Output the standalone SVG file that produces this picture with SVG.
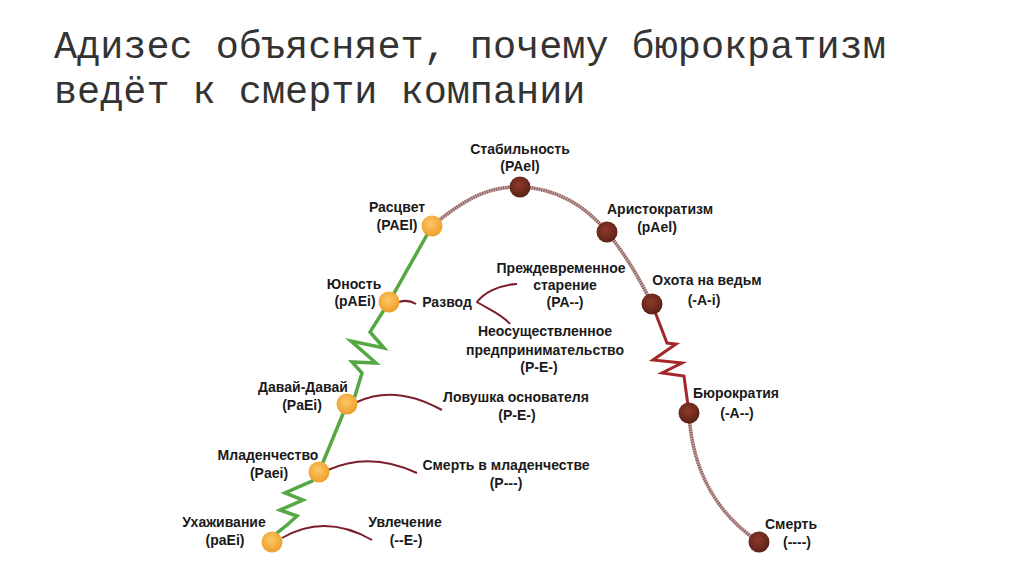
<svg xmlns="http://www.w3.org/2000/svg" width="1024" height="574" viewBox="0 0 1024 574">
<defs>
<radialGradient id="gO" cx="0.45" cy="0.4" r="0.6">
<stop offset="0" stop-color="#fcc866"/>
<stop offset="1" stop-color="#ee9e2c"/>
</radialGradient>
<radialGradient id="gB" cx="0.45" cy="0.4" r="0.6">
<stop offset="0" stop-color="#8e3a2a"/>
<stop offset="1" stop-color="#5c2117"/>
</radialGradient>
<style>
.t{font-family:"Liberation Mono","Courier New",monospace;font-size:38.5px;fill:#333333}
.l{font-family:"Liberation Sans",Arial,sans-serif;font-weight:bold;font-size:14px;fill:#1a1a1a;text-anchor:middle}
.o{fill:url(#gO)}
.b{fill:url(#gB)}
.g{fill:none;stroke:#55a843;stroke-width:3.5;stroke-linejoin:miter}
.r{fill:none;stroke:#a3262a;stroke-width:3}
.a{fill:none;stroke:#c4a2a2;stroke-width:3.5}
.ad{fill:none;stroke:#8a5a5a;stroke-width:3.5;stroke-dasharray:1 1.4}
.c{fill:none;stroke:#7a1f2a;stroke-width:2}
</style>
</defs>
<rect width="1024" height="574" fill="#ffffff"/>
<text class="t" x="54" y="58">Адизес объясняет, почему бюрократизм</text>
<text class="t" x="54" y="103">ведёт к смерти компании</text>
<g id="connectors">
<path class="g" d="M272,542 L277,533 L287,525 L297,516 L280,510 L303,500 L285,493 L312,481 L319,472 L347,404 L355,396 L362,373 L352,362 L376,363 L351,341 L384,348 L370,332 L389,302 L432,226"/>
<path class="a" d="M432,226 C468,196 492,186 520,187 C556,188 586,206 607,232 C628,258 640,280 652,304"/>
<path class="ad" d="M432,226 C468,196 492,186 520,187 C556,188 586,206 607,232 C628,258 640,280 652,304"/>
<path class="r" d="M652,304 L667,343 L676,344 L653,360 L682,363 L662,373 L684,376 L689,413"/>
<path class="a" d="M689,413 C692,472 718,515 759,542"/>
<path class="ad" d="M689,413 C692,472 718,515 759,542"/>
<path class="c" d="M399,302 Q408,299 416,304"/>
<path class="c" d="M517,284 C497,285 483,294 477,302 C488,309 502,314 510,324"/>
<path class="c" d="M357,402 Q395,384 442,410"/>
<path class="c" d="M328,470 Q370,451 417,473"/>
<path class="c" d="M282,538 Q325,513 372,540"/>
</g>
<g id="n-uhazhivanie"><circle class="o" cx="272" cy="542" r="10.5"/><text class="l" x="224" y="527">Ухаживание</text><text class="l" x="225" y="545">(paEi)</text></g>
<g id="n-mladenchestvo"><circle class="o" cx="319" cy="472" r="10.5"/><text class="l" x="268" y="460">Младенчество</text><text class="l" x="269" y="478">(Paei)</text></g>
<g id="n-davai"><circle class="o" cx="347" cy="404" r="10.5"/><text class="l" x="303" y="392">Давай-Давай</text><text class="l" x="302" y="410">(PaEi)</text></g>
<g id="n-yunost"><circle class="o" cx="389" cy="302" r="10.5"/><text class="l" x="354" y="289">Юность</text><text class="l" x="355" y="306">(pAEi)</text></g>
<g id="n-rascvet"><circle class="o" cx="432" cy="226" r="10.5"/><text class="l" x="397" y="212">Расцвет</text><text class="l" x="397" y="230">(PAEl)</text></g>
<g id="n-stabilnost"><circle class="b" cx="520" cy="187" r="10.5"/><text class="l" x="520" y="154">Стабильность</text><text class="l" x="520" y="171">(PAel)</text></g>
<g id="n-aristokratizm"><circle class="b" cx="607" cy="232" r="10.5"/><text class="l" x="660" y="214">Аристократизм</text><text class="l" x="657" y="232">(pAel)</text></g>
<g id="n-ohota"><circle class="b" cx="652" cy="304" r="10.5"/><text class="l" x="707" y="285">Охота на ведьм</text><text class="l" x="704" y="305">(-A-i)</text></g>
<g id="n-byurokratiya"><circle class="b" cx="689" cy="413" r="10.5"/><text class="l" x="736" y="398">Бюрократия</text><text class="l" x="737" y="418">(-A--)</text></g>
<g id="n-smert"><circle class="b" cx="759" cy="542" r="10.5"/><text class="l" x="791" y="529">Смерть</text><text class="l" x="797" y="547">(----)</text></g>
<g id="n-razvod"><text class="l" x="447" y="307">Развод</text></g>
<g id="n-prezhdevremennoe"><text class="l" x="561" y="273">Преждевременное</text><text class="l" x="565" y="290">старение</text><text class="l" x="565" y="307">(PA--)</text></g>
<g id="n-neosushch"><text class="l" x="545" y="336">Неосуществленное</text><text class="l" x="545" y="355">предпринимательство</text><text class="l" x="539" y="372">(P-E-)</text></g>
<g id="n-lovushka"><text class="l" x="516" y="402">Ловушка основателя</text><text class="l" x="517" y="420">(P-E-)</text></g>
<g id="n-smert-mlad"><text class="l" x="506" y="470">Смерть в младенчестве</text><text class="l" x="506" y="488">(P---)</text></g>
<g id="n-uvlechenie"><text class="l" x="405" y="527">Увлечение</text><text class="l" x="406" y="545">(--E-)</text></g>
</svg>
